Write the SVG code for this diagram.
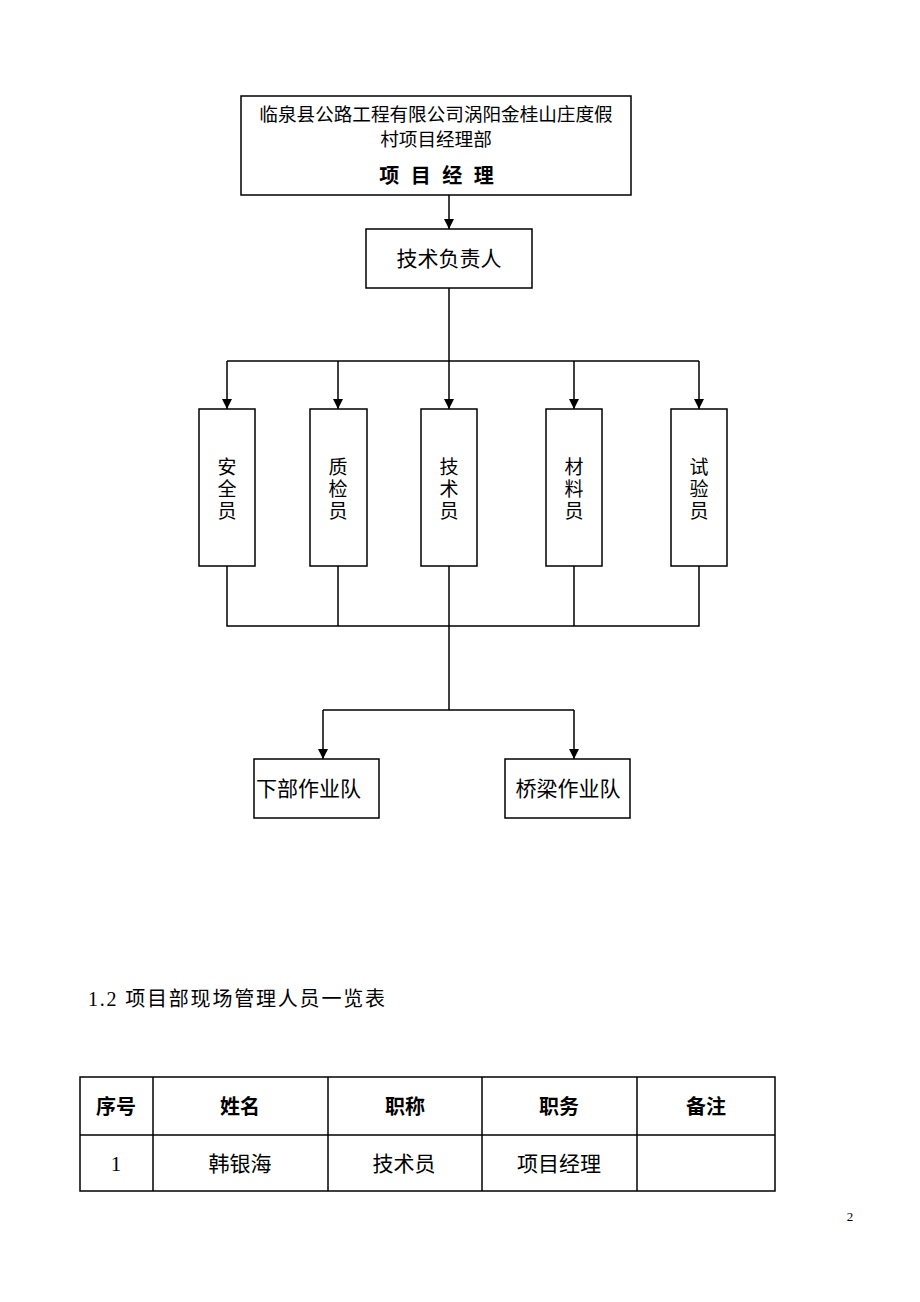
<svg xmlns="http://www.w3.org/2000/svg" width="920" height="1302" viewBox="0 0 920 1302">
<style>
.box{fill:#fff;stroke:#000;stroke-width:1.5}
.ln{fill:none;stroke:#000;stroke-width:1.5}
.t{font-family:"Liberation Sans","Noto Sans CJK SC",sans-serif;fill:#000}
.s{font-family:"Liberation Serif","Noto Sans CJK SC",serif;fill:#000}
</style>
<defs>
<marker id="ah" markerWidth="10" markerHeight="12" refX="10" refY="5" orient="auto" markerUnits="userSpaceOnUse" viewBox="0 0 10 10">
<path d="M0,0 L10,5 L0,10 Z" fill="#000"/>
</marker>
</defs>
<rect width="920" height="1302" fill="#fff"/>
<g id="connectors">
<line class="ln" x1="449" y1="195" x2="449" y2="229" marker-end="url(#ah)"/>
<line class="ln" x1="449" y1="288" x2="449" y2="409" marker-end="url(#ah)"/>
<line class="ln" x1="227" y1="361" x2="699" y2="361"/>
<line class="ln" x1="227" y1="361" x2="227" y2="409" marker-end="url(#ah)"/>
<line class="ln" x1="338" y1="361" x2="338" y2="409" marker-end="url(#ah)"/>
<line class="ln" x1="574" y1="361" x2="574" y2="409" marker-end="url(#ah)"/>
<line class="ln" x1="699" y1="361" x2="699" y2="409" marker-end="url(#ah)"/>
<polyline class="ln" points="227,566 227,626 699,626 699,566"/>
<line class="ln" x1="338" y1="566" x2="338" y2="626"/>
<line class="ln" x1="574" y1="566" x2="574" y2="626"/>
<line class="ln" x1="449" y1="566" x2="449" y2="710"/>
<line class="ln" x1="323" y1="710" x2="574" y2="710"/>
<line class="ln" x1="323" y1="710" x2="323" y2="759" marker-end="url(#ah)"/>
<line class="ln" x1="574" y1="710" x2="574" y2="759" marker-end="url(#ah)"/>
</g>
<g id="n-top">
<rect class="box" x="241" y="96" width="390" height="99"/>
<text class="t" x="436" y="121" font-size="18.6" text-anchor="middle">临泉县公路工程有限公司涡阳金桂山庄度假</text>
<text class="t" x="436" y="146" font-size="18.6" text-anchor="middle">村项目经理部</text>
<text class="t" x="438" y="183" font-size="20" font-weight="bold" letter-spacing="3" text-anchor="middle">项 目 经 理</text>
</g>
<g id="n-jsfzr">
<rect class="box" x="366" y="229" width="166" height="59"/>
<text class="t" x="449" y="266" font-size="21" text-anchor="middle">技术负责人</text>
</g>
<g id="n-aqy">
<rect class="box" x="199" y="409" width="56" height="157"/>
<text class="t" x="227" y="474" font-size="19" text-anchor="middle">安</text>
<text class="t" x="227" y="496" font-size="19" text-anchor="middle">全</text>
<text class="t" x="227" y="518" font-size="19" text-anchor="middle">员</text>
</g>
<g id="n-zjy">
<rect class="box" x="310" y="409" width="57" height="157"/>
<text class="t" x="338" y="474" font-size="19" text-anchor="middle">质</text>
<text class="t" x="338" y="496" font-size="19" text-anchor="middle">检</text>
<text class="t" x="338" y="518" font-size="19" text-anchor="middle">员</text>
</g>
<g id="n-jsy">
<rect class="box" x="421" y="409" width="56" height="157"/>
<text class="t" x="449" y="474" font-size="19" text-anchor="middle">技</text>
<text class="t" x="449" y="496" font-size="19" text-anchor="middle">术</text>
<text class="t" x="449" y="518" font-size="19" text-anchor="middle">员</text>
</g>
<g id="n-cly">
<rect class="box" x="546" y="409" width="56" height="157"/>
<text class="t" x="574" y="474" font-size="19" text-anchor="middle">材</text>
<text class="t" x="574" y="496" font-size="19" text-anchor="middle">料</text>
<text class="t" x="574" y="518" font-size="19" text-anchor="middle">员</text>
</g>
<g id="n-syy">
<rect class="box" x="671" y="409" width="56" height="157"/>
<text class="t" x="699" y="474" font-size="19" text-anchor="middle">试</text>
<text class="t" x="699" y="496" font-size="19" text-anchor="middle">验</text>
<text class="t" x="699" y="518" font-size="19" text-anchor="middle">员</text>
</g>
<g id="n-xb">
<rect class="box" x="254" y="759" width="125" height="59"/>
<text class="t" x="256" y="796" font-size="21">下部作业队</text>
</g>
<g id="n-ql">
<rect class="box" x="505" y="759" width="125" height="59"/>
<text class="t" x="568" y="796" font-size="21" text-anchor="middle">桥梁作业队</text>
</g>
<g id="heading">
<text class="s" x="88" y="1006" font-size="20" letter-spacing="1.8">1.2 项目部现场管理人员一览表</text>
</g>
<g id="table">
<rect class="box" x="80" y="1077" width="695" height="114"/>
<line class="ln" x1="80" y1="1135" x2="775" y2="1135"/>
<line class="ln" x1="153" y1="1077" x2="153" y2="1191"/>
<line class="ln" x1="328" y1="1077" x2="328" y2="1191"/>
<line class="ln" x1="482" y1="1077" x2="482" y2="1191"/>
<line class="ln" x1="637" y1="1077" x2="637" y2="1191"/>
<g class="t" font-size="20" font-weight="bold" text-anchor="middle">
<text x="116" y="1114">序号</text>
<text x="240" y="1114">姓名</text>
<text x="405" y="1114">职称</text>
<text x="559" y="1114">职务</text>
<text x="706" y="1114">备注</text>
</g>
<g class="s" font-size="21" text-anchor="middle">
<text x="116" y="1171">1</text>
<text x="240" y="1171">韩银海</text>
<text x="404" y="1171">技术员</text>
<text x="559" y="1171">项目经理</text>
</g>
</g>
<text class="s" x="850" y="1221" font-size="13" text-anchor="middle">2</text>
</svg>
